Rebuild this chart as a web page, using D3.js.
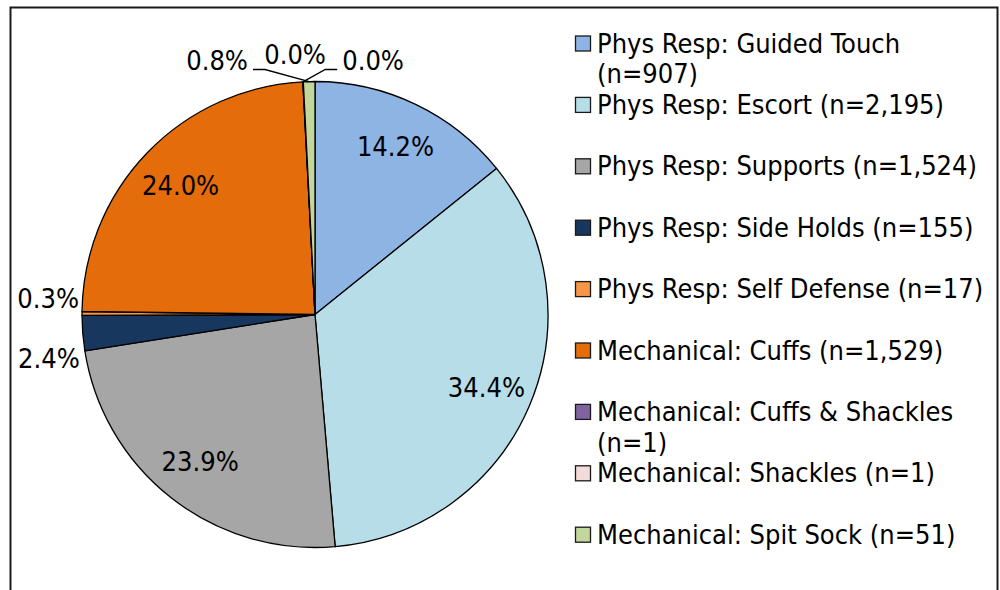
<!DOCTYPE html>
<html>
<head>
<meta charset="utf-8">
<script src="https://cdn.jsdelivr.net/npm/d3@7"></script>
<style>
  html, body { margin: 0; padding: 0; background: #fff; }
  svg { display: block; }
  text { font-family: "DejaVu Sans Condensed", "DejaVu Sans", sans-serif; font-stretch: condensed; font-size: 27px; fill: #000; }
</style>
</head>
<body>
<svg id="chart" width="1000" height="590"></svg>
<script>
(function() {

  'use strict';

  // data
  var categories = [
    'Phys Resp: Guided Touch',
    'Phys Resp: Escort',
    'Phys Resp: Supports',
    'Phys Resp: Side Holds',
    'Phys Resp: Self Defense',
    'Mechanical: Cuffs',
    'Mechanical: Cuffs & Shackles',
    'Mechanical: Shackles',
    'Mechanical: Spit Sock'
  ];
  var counts = [907, 2195, 1524, 155, 17, 1529, 1, 1, 51];
  var colours = ['#8eb4e3', '#b7dee8', '#a6a6a6', '#17375e', '#f79646',
                 '#e46c0a', '#8064a2', '#f2dcdb', '#c3d69b'];

  var svg = d3.select('#chart');
  var cx = 315, cy = 314.5, r = 233;
  var total = d3.sum(counts);
  var pct = d3.format('.1%');
  var nfmt = d3.format(',');

  // outer frame
  svg.append('rect')
    .attr('x', 10.5).attr('y', 7.5)
    .attr('width', 987).attr('height', 620)
    .attr('fill', 'none')
    .attr('stroke', '#1a1a1a')
    .attr('stroke-width', 2);

  var pie = d3.pie().sort(null).value(function(d) { return d; });
  var arcs = pie(counts);
  var arc = d3.arc().innerRadius(0).outerRadius(r);

  var g = svg.append('g').attr('transform', 'translate(' + cx + ',' + cy + ')');

  g.selectAll('path.slice')
    .data(arcs)
    .enter().append('path')
    .attr('class', 'slice')
    .attr('d', arc)
    .attr('fill', function(d, i) { return colours[i]; })
    .attr('stroke', '#000')
    .attr('stroke-width', 1.3)
    .attr('stroke-linejoin', 'round');

  // inside labels for the big slices
  var labelArc = d3.arc().innerRadius(r * 0.8).outerRadius(r * 0.8);
  var big = arcs.filter(function(d) { return d.value / total >= 0.03; });
  g.selectAll('text.inside')
    .data(big)
    .enter().append('text')
    .attr('class', 'inside')
    .attr('x', function(d) { return labelArc.centroid(d)[0]; })
    .attr('y', function(d) { return labelArc.centroid(d)[1]; })
    .attr('dy', '0.35em')
    .attr('text-anchor', 'middle')
    .text(function(d) { return pct(d.value / total); });

  // outside labels for the small slices
  var small = arcs.filter(function(d) { return d.value / total < 0.03; }).map(function(d) {
    var a = (d.startAngle + d.endAngle) / 2;
    return { d: d, a: a, px: Math.sin(a) * r, py: -Math.cos(a) * r };
  });
  var side = small.filter(function(s) { return Math.cos(s.a) < 0.7; });
  var top = small.filter(function(s) { return Math.cos(s.a) >= 0.7; });

  // side labels: stacked vertically, pushed apart
  side.sort(function(a, b) { return a.py - b.py; });
  var gap = 60;
  var meanY = d3.mean(side, function(s) { return s.py; }) + 5;
  side.forEach(function(s, i) {
    s.ly = meanY + (i - (side.length - 1) / 2) * gap;
    s.lx = Math.sin(s.a) * (r + 3);
  });
  g.selectAll('text.side')
    .data(side)
    .enter().append('text')
    .attr('class', 'side')
    .attr('x', function(s) { return s.lx; })
    .attr('y', function(s) { return s.ly; })
    .attr('dy', '0.35em')
    .attr('text-anchor', function(s) { return Math.sin(s.a) < 0 ? 'end' : 'start'; })
    .text(function(s) { return pct(s.d.value / total); });

  // top labels: in a row above the pie
  top.sort(function(a, b) { return b.a - a.a; });
  var meanX = d3.mean(top, function(s) { return s.px; }) - 10;
  var step = 78;
  top.forEach(function(s, i) {
    var k = i - (top.length - 1) / 2;
    s.lx = meanX + k * step;
    s.ly = -r - 21 - (k === 0 ? 6 : 0);
  });
  var topText = g.selectAll('text.top')
    .data(top)
    .enter().append('text')
    .attr('class', 'top')
    .attr('x', function(s) { return s.lx; })
    .attr('y', function(s) { return s.ly; })
    .attr('dy', '0.35em')
    .attr('text-anchor', 'middle')
    .text(function(s) { return pct(s.d.value / total); });

  topText.each(function(s) {
    var w = this.getComputedTextLength();
    if (Math.abs(s.lx - s.px) < 30) return;
    var dir = s.lx < s.px ? 1 : -1;
    var x0 = s.lx + dir * (w / 2 + 5);
    var y0 = s.ly + 9;
    g.append('polyline')
      .attr('points', [[x0, y0], [x0 + dir * 12, y0], [s.px, s.py]].join(' '))
      .attr('fill', 'none')
      .attr('stroke', '#000')
      .attr('stroke-width', 1.3);
  });

  // legend
  var legX = 575, legY0 = 52.5, legStep = 61.4, lineH = 30.7, maxW = 395;
  var legend = svg.append('g');
  categories.forEach(function(c, i) {
    var y = legY0 + i * legStep;
    legend.append('rect')
      .attr('x', legX + 0.5).attr('y', y - 16.5)
      .attr('width', 15).attr('height', 15)
      .attr('fill', colours[i])
      .attr('stroke', '#1a1a1a')
      .attr('stroke-width', 1.3);
    var words = (c + ' (n=' + nfmt(counts[i]) + ')').split(' ');
    var t = legend.append('text').attr('x', legX + 22).attr('y', y);
    var line = [], ln = 0;
    var tspan = t.append('tspan').attr('x', legX + 22).attr('y', y);
    words.forEach(function(w) {
      line.push(w);
      tspan.text(line.join(' '));
      if (tspan.node().getComputedTextLength() > maxW && line.length > 1) {
        line.pop();
        tspan.text(line.join(' '));
        line = [w];
        ln++;
        tspan = t.append('tspan').attr('x', legX + 22).attr('y', y + ln * lineH).text(w);
      }
    });
  });

})();
</script>
</body>
</html>
